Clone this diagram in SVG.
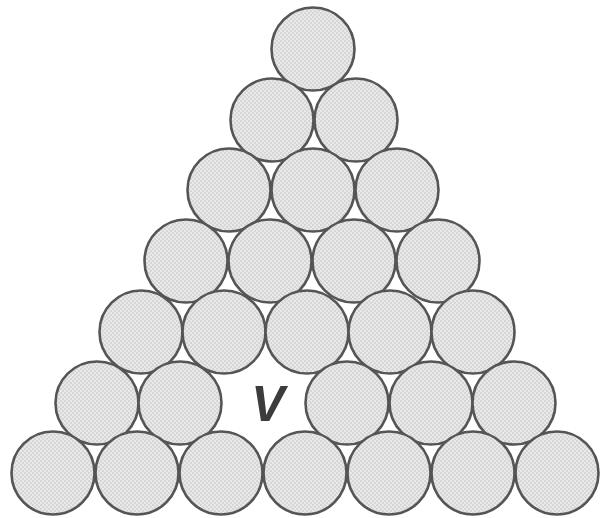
<svg xmlns="http://www.w3.org/2000/svg" width="601" height="518" viewBox="0 0 601 518">
<style>
.b{fill:url(#dots);stroke:#555555;stroke-width:2.6}
.v{font-family:"Liberation Sans",Arial,sans-serif;font-weight:bold;font-style:italic;font-size:50px;fill:#3c3c3c;text-anchor:middle}
</style>
<defs>
<pattern id="dots" width="4" height="4" patternUnits="userSpaceOnUse">
<rect width="4" height="4" fill="#e9e9e9"/>
<circle cx="1" cy="1" r="0.7" fill="#b4b4b4"/>
<circle cx="3" cy="3" r="0.7" fill="#b4b4b4"/>
</pattern>
</defs>
<rect width="601" height="518" fill="#ffffff"/>
<g id="row1"><g id="b1-1"><circle class="b" cx="313" cy="49" r="41.5"/></g></g>
<g id="row2">
<g id="b2-1"><circle class="b" cx="272" cy="120" r="41.5"/></g>
<g id="b2-2"><circle class="b" cx="356" cy="120" r="41.5"/></g>
</g>
<g id="row3">
<g id="b3-1"><circle class="b" cx="229" cy="190" r="41.5"/></g>
<g id="b3-2"><circle class="b" cx="313" cy="190" r="41.5"/></g>
<g id="b3-3"><circle class="b" cx="397" cy="190" r="41.5"/></g>
</g>
<g id="row4">
<g id="b4-1"><circle class="b" cx="186" cy="261" r="41.5"/></g>
<g id="b4-2"><circle class="b" cx="270" cy="261" r="41.5"/></g>
<g id="b4-3"><circle class="b" cx="354" cy="261" r="41.5"/></g>
<g id="b4-4"><circle class="b" cx="438" cy="261" r="41.5"/></g>
</g>
<g id="row5">
<g id="b5-1"><circle class="b" cx="141" cy="332" r="41.5"/></g>
<g id="b5-2"><circle class="b" cx="224" cy="332" r="41.5"/></g>
<g id="b5-3"><circle class="b" cx="307" cy="332" r="41.5"/></g>
<g id="b5-4"><circle class="b" cx="390" cy="332" r="41.5"/></g>
<g id="b5-5"><circle class="b" cx="473" cy="332" r="41.5"/></g>
</g>
<g id="row6">
<g id="b6-1"><circle class="b" cx="97" cy="403" r="41.5"/></g>
<g id="b6-2"><circle class="b" cx="180" cy="403" r="41.5"/></g>
<g id="vacancy"><text class="v" x="268" y="421">V</text></g>
<g id="b6-4"><circle class="b" cx="347" cy="403" r="41.5"/></g>
<g id="b6-5"><circle class="b" cx="431" cy="403" r="41.5"/></g>
<g id="b6-6"><circle class="b" cx="514" cy="403" r="41.5"/></g>
</g>
<g id="row7">
<g id="b7-1"><circle class="b" cx="53" cy="473" r="41.5"/></g>
<g id="b7-2"><circle class="b" cx="137" cy="473" r="41.5"/></g>
<g id="b7-3"><circle class="b" cx="221" cy="473" r="41.5"/></g>
<g id="b7-4"><circle class="b" cx="305" cy="473" r="41.5"/></g>
<g id="b7-5"><circle class="b" cx="389" cy="473" r="41.5"/></g>
<g id="b7-6"><circle class="b" cx="473" cy="473" r="41.5"/></g>
<g id="b7-7"><circle class="b" cx="557" cy="473" r="41.5"/></g>
</g>
</svg>
